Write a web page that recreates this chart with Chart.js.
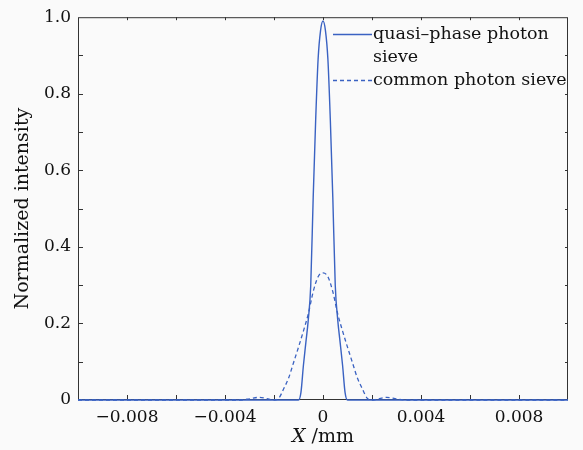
<!DOCTYPE html>
<html>
<head>
<meta charset="utf-8">
<script src="https://cdn.jsdelivr.net/npm/chart.js@4"></script>
<style>
  html, body { margin: 0; padding: 0; background: #fafafa; }
  #wrap { width: 583px; height: 450px; }
</style>
</head>
<body>
<div id="wrap"><canvas id="sieveChart" width="583" height="450"></canvas></div>
<script>
// Data (X in mm, normalized intensity)
const quasiX = [-0.01, -0.001, -0.0009, -0.0008, -0.0007, -0.0006, -0.0005, -0.0004, -0.0003, -0.0002, -0.0001, 0,
                0.0001, 0.0002, 0.0003, 0.0004, 0.0005, 0.0006, 0.0007, 0.0008, 0.0009, 0.001, 0.01];
const quasiY = [0, 0, 0.02, 0.09, 0.15, 0.21, 0.30, 0.53, 0.73, 0.89, 0.965, 0.99,
                0.965, 0.89, 0.73, 0.53, 0.30, 0.21, 0.15, 0.09, 0.02, 0, 0];

const commonX = [-0.01, -0.0034, -0.003, -0.0026, -0.0022, -0.002, -0.0018, -0.0016, -0.0014, -0.0012, -0.001,
                 -0.0008, -0.0006, -0.0004, -0.0002, 0, 0.0002, 0.0004, 0.0006, 0.0008, 0.001,
                 0.0012, 0.0014, 0.0016, 0.0018, 0.002, 0.0022, 0.0026, 0.003, 0.0034, 0.01];
const commonY = [0, 0, 0.003, 0.007, 0.002, 0, 0.005, 0.03, 0.058, 0.098, 0.138,
                 0.18, 0.225, 0.283, 0.322, 0.332, 0.322, 0.283, 0.225, 0.18, 0.138,
                 0.098, 0.058, 0.03, 0.005, 0, 0.002, 0.007, 0.003, 0, 0];

const seriesNames = ['quasi\u2013phase photon\nsieve', 'common photon sieve'];

// Axis ticks
const xLabelTicks = [-0.008, -0.004, 0, 0.004, 0.008];
const xMinorTicks = [-0.008, -0.006, -0.004, -0.002, 0, 0.002, 0.004, 0.006, 0.008];
const yLabelTicks = [0, 0.2, 0.4, 0.6, 0.8, 1.0];
const yMinorTicks = [0.1, 0.2, 0.3, 0.4, 0.5, 0.6, 0.7, 0.8, 0.9];

const LINE_COLOR = '#3a62c2';
const TEXT_COLOR = '#111';
const FONT = '"DejaVu Serif", serif';

function toPoints(xs, ys) {
  return xs.map((x, i) => ({ x: x, y: ys[i] }));
}

function formatX(v) {
  if (Math.abs(v) < 1e-12) return '0';
  const s = Math.abs(v).toFixed(3);
  return v < 0 ? '\u2212' + s : s;
}

function formatY(v) {
  if (Math.abs(v) < 1e-12) return '0';
  return v.toFixed(1);
}

/**
 * Frame with inward tick marks on all four sides, plus legend and x title
 */
const framePlugin = {
  id: 'frame',
  beforeDatasetsDraw(chart) {
    const { ctx, chartArea: a, scales: { x, y } } = chart;
    ctx.save();
    ctx.strokeStyle = '#333';
    ctx.lineWidth = 1;
    ctx.strokeRect(a.left + 0.5, a.top + 0.5, a.right - a.left - 1, a.bottom - a.top - 1);
    ctx.beginPath();
    xMinorTicks.forEach(v => {
      const px = Math.round(x.getPixelForValue(v)) + 0.5;
      ctx.moveTo(px, a.bottom);
      ctx.lineTo(px, a.bottom - 5);
      ctx.moveTo(px, a.top);
      ctx.lineTo(px, a.top + 3);
    });
    yMinorTicks.forEach(v => {
      const py = Math.round(y.getPixelForValue(v)) + 0.5;
      ctx.moveTo(a.left, py);
      ctx.lineTo(a.left + 5, py);
      ctx.moveTo(a.right, py);
      ctx.lineTo(a.right - 3, py);
    });
    ctx.stroke();
    ctx.restore();
  },
  afterDraw(chart) {
    const { ctx, chartArea: a } = chart;
    ctx.save();
    // x axis title with italic X
    ctx.fillStyle = TEXT_COLOR;
    ctx.textBaseline = 'middle';
    const cx = (a.left + a.right) / 2;
    ctx.font = 'italic 19px ' + FONT;
    const wX = ctx.measureText('X').width;
    ctx.font = '19px ' + FONT;
    const wRest = ctx.measureText(' /mm').width;
    const startX = cx - (wX + wRest) / 2;
    ctx.font = 'italic 19px ' + FONT;
    ctx.textAlign = 'left';
    ctx.fillText('X', startX, 437);
    ctx.font = '19px ' + FONT;
    ctx.fillText(' /mm', startX + wX, 437);

    // legend
    const ds = chart.data.datasets;
    const lx0 = 333, lx1 = 372;
    const rows = [34, 80];
    ds.forEach((d, i) => {
      ctx.strokeStyle = d.borderColor;
      ctx.lineWidth = 1.3;
      ctx.setLineDash(d.borderDash || []);
      ctx.beginPath();
      ctx.moveTo(lx0, rows[i] + 0.5);
      ctx.lineTo(lx1, rows[i] + 0.5);
      ctx.stroke();
      ctx.setLineDash([]);
      ctx.fillStyle = TEXT_COLOR;
      ctx.font = '17.5px ' + FONT;
      d.label.split('\n').forEach((t, j) => {
        ctx.fillText(t, lx1 + 1, rows[i] + j * 23);
      });
    });
    ctx.restore();
  }
};

const ctx = document.getElementById('sieveChart').getContext('2d');

const sieveChart = new Chart(ctx, {
  type: 'scatter',
  data: {
    datasets: [
      {
        label: seriesNames[0],
        data: toPoints(quasiX, quasiY),
        showLine: true,
        borderColor: LINE_COLOR,
        borderWidth: 1.4,
        pointRadius: 0,
        cubicInterpolationMode: 'monotone',
        clip: false
      },
      {
        label: seriesNames[1],
        data: toPoints(commonX, commonY),
        showLine: true,
        borderColor: LINE_COLOR,
        borderWidth: 1.3,
        borderDash: [4, 3],
        pointRadius: 0,
        cubicInterpolationMode: 'monotone',
        clip: false
      }
    ]
  },
  options: {
    responsive: false,
    animation: false,
    layout: {
      padding: { top: 14, right: 15, left: 0, bottom: 0 }
    },
    plugins: {
      legend: { display: false },
      tooltip: { enabled: false }
    },
    scales: {
      x: {
        type: 'linear',
        min: -0.01,
        max: 0.01,
        afterBuildTicks: scale => {
          scale.ticks = xLabelTicks.map(v => ({ value: v }));
        },
        afterFit: scale => { scale.height = 50; },
        grid: { display: false, drawTicks: false },
        border: { display: false },
        ticks: {
          padding: 7,
          maxRotation: 0,
          color: TEXT_COLOR,
          font: { family: FONT, size: 17 },
          callback: v => formatX(v)
        }
      },
      y: {
        min: 0,
        max: 1,
        afterBuildTicks: scale => {
          scale.ticks = yLabelTicks.map(v => ({ value: v }));
        },
        afterFit: scale => { scale.width = 78; },
        grid: { display: false, drawTicks: false },
        border: { display: false },
        ticks: {
          padding: 7,
          color: TEXT_COLOR,
          font: { family: FONT, size: 17 },
          callback: v => formatY(v)
        },
        title: {
          display: true,
          text: 'Normalized intensity',
          color: TEXT_COLOR,
          font: { family: FONT, size: 19 },
          padding: { top: 12, bottom: 0 }
        }
      }
    }
  },
  plugins: [framePlugin]
});
</script>
</body>
</html>
